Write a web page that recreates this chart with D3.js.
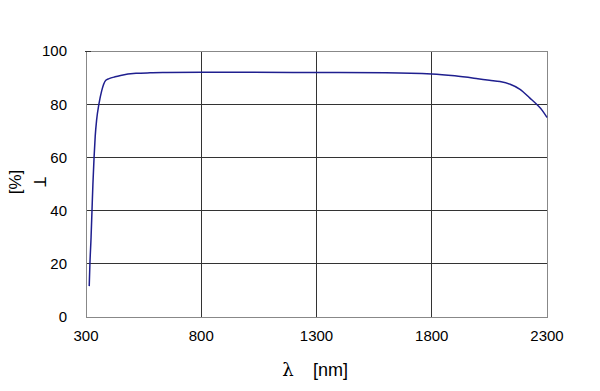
<!DOCTYPE html>
<html>
<head>
<meta charset="utf-8">
<script src="https://cdn.jsdelivr.net/npm/d3@7"></script>
<style>
  body { margin: 0; background: #fff; }
  text { font-family: "Liberation Sans", Arial, sans-serif; fill: #000; }
</style>
</head>
<body>
<div id="chart"></div>
<script>
// wavelength (nm) and transmittance (%)
const wavelength = [314, 317, 322, 326, 330, 335, 340, 346, 356, 368, 386, 400, 426, 450, 517, 578, 650, 800, 1000, 1300, 1600, 1800, 1900, 2000, 2050, 2096, 2140, 2183, 2226, 2257, 2280, 2300];
const transmit   = [11.6, 20, 30, 40, 50, 60, 68, 74, 80, 85, 89, 89.6, 90.3, 90.8, 91.6, 91.8, 91.9, 92, 92, 91.9, 91.8, 91.4, 90.7, 89.6, 89.0, 88.5, 87.5, 85.6, 82.3, 79.8, 77.6, 75];
const xTicks = [300, 800, 1300, 1800, 2300];
const yTicks = [0, 20, 40, 60, 80, 100];

const width = 600, height = 391;
const margin = {left: 86, top: 51, right: 53, bottom: 74};

const svg = d3.select('#chart').append('svg')
  .attr('width', width)
  .attr('height', height);

const x = d3.scaleLinear().domain([300, 2300]).range([margin.left, width - margin.right]);
const y = d3.scaleLinear().domain([0, 100]).range([height - margin.bottom, margin.top]);

// grid lines
svg.append('g')
  .selectAll('line')
  .data(yTicks.filter(d => d > 0 && d < 100))
  .enter().append('line')
    .attr('x1', x(300)).attr('x2', x(2300))
    .attr('y1', d => y(d)).attr('y2', d => y(d))
    .attr('stroke', '#333').attr('stroke-width', 1).attr('shape-rendering', 'crispEdges');

svg.append('g')
  .selectAll('line')
  .data(xTicks.filter(d => d > 300 && d < 2300))
  .enter().append('line')
    .attr('x1', d => x(d)).attr('x2', d => x(d))
    .attr('y1', y(0)).attr('y2', y(100))
    .attr('stroke', '#333').attr('stroke-width', 1).attr('shape-rendering', 'crispEdges');

// plot frame
svg.append('rect')
  .attr('x', x(300)).attr('y', y(100))
  .attr('width', x(2300) - x(300)).attr('height', y(0) - y(100))
  .attr('fill', 'none').attr('stroke', '#888').attr('shape-rendering', 'crispEdges');

// small tick at top left
svg.append('line')
  .attr('x1', x(300) - 1).attr('x2', x(300) + 5)
  .attr('y1', y(100)).attr('y2', y(100))
  .attr('stroke', '#333').attr('shape-rendering', 'crispEdges');

// tick labels
svg.append('g')
  .selectAll('text')
  .data(yTicks)
  .enter().append('text')
    .attr('x', x(300) - 19)
    .attr('y', d => y(d))
    .attr('dy', '0.36em')
    .attr('text-anchor', 'end')
    .style('font-size', '15px')
    .text(d => d);

svg.append('g')
  .selectAll('text')
  .data(xTicks)
  .enter().append('text')
    .attr('x', d => x(d))
    .attr('y', y(0) + 19)
    .attr('dy', '0.36em')
    .attr('text-anchor', 'middle')
    .style('font-size', '15px')
    .text(d => d);

// curve
const points = wavelength.map((w, i) => [w, transmit[i]]);
svg.append('path')
  .datum(points)
  .attr('fill', 'none')
  .attr('stroke', '#1f1f8f')
  .attr('stroke-width', 1.5)
  .attr('d', d3.line()
    .x(d => x(d[0]))
    .y(d => y(d[1]))
    .curve(d3.curveMonotoneX));

// axis titles
svg.append('text')
  .attr('transform', 'translate(15,182) rotate(-90)')
  .attr('dy', '0.36em')
  .attr('text-anchor', 'middle')
  .style('font-size', '17px')
  .text('[%]');

svg.append('text')
  .attr('transform', 'translate(40,182) rotate(90)')
  .attr('dy', '0.36em')
  .attr('text-anchor', 'middle')
  .style('font-size', '16px')
  .text('T');

svg.append('text')
  .attr('x', 288).attr('y', 370)
  .attr('dy', '0.36em')
  .attr('text-anchor', 'middle')
  .style('font-size', '18px')
  .style('font-family', '"DejaVu Serif", serif')
  .text('λ');

svg.append('text')
  .attr('x', 313).attr('y', 370)
  .attr('dy', '0.36em')
  .style('font-size', '18px')
  .text('[nm]');
</script>
</body>
</html>
